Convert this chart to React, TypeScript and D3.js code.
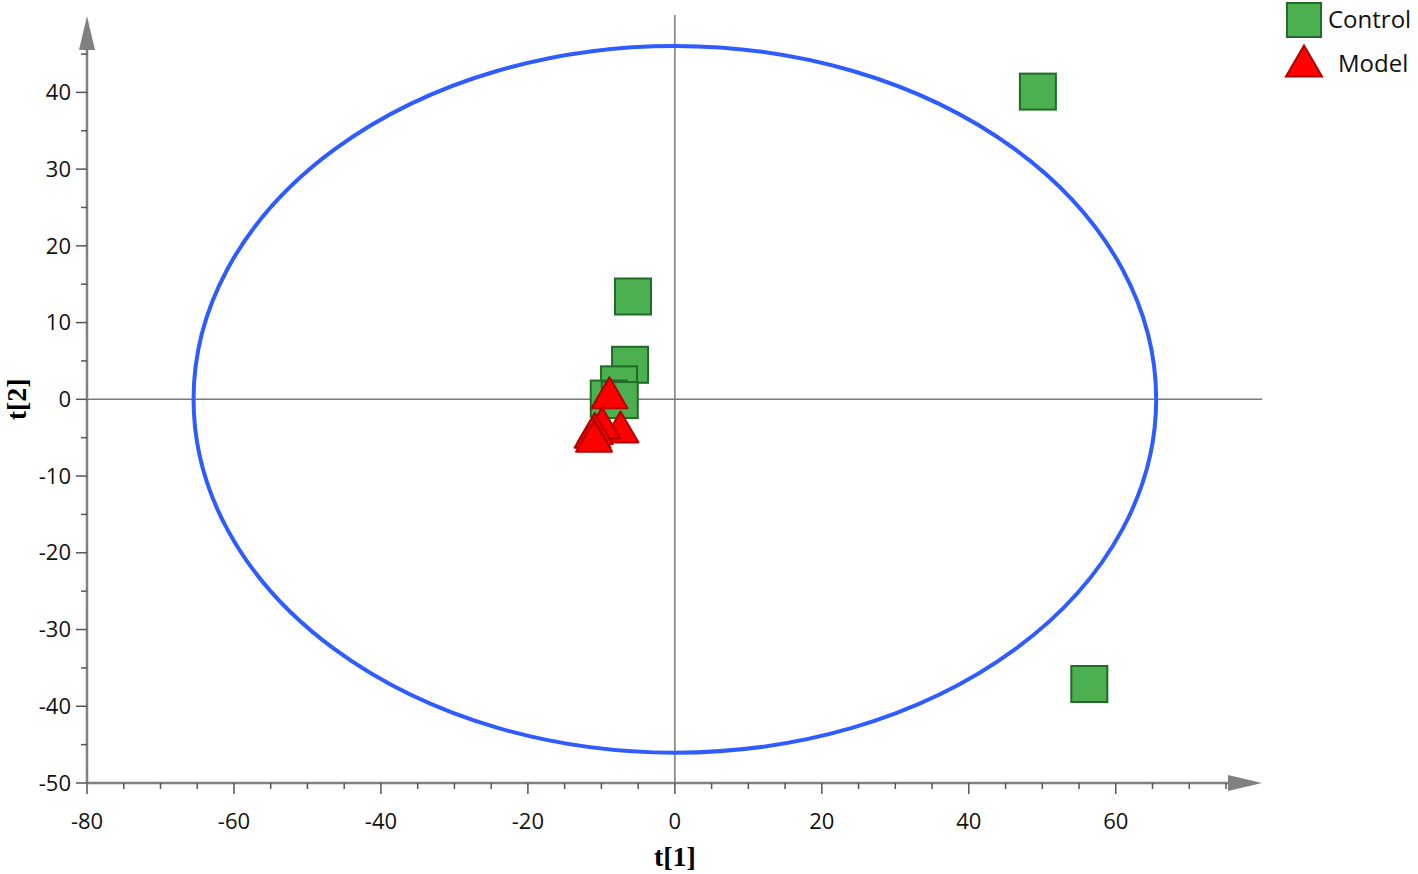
import * as React from 'react';
import * as d3 from 'd3';

// scores
const controlT1 = [49.4, 56.4, -5.7, -6.1, -7.6, -9.0, -7.5];
const controlT2 = [40.1, -37.1, 13.4, 4.5, 1.95, 0.1, -0.1];
const modelT1 = [-8.9, -7.4, -9.9, -10.9, -11.2, -11.0];
const modelT2 = [0.85, -3.6, -3.1, -3.8, -4.3, -4.8];
const xTicks = [-80, -60, -40, -20, 0, 20, 40, 60];
const yTicks = [-50, -40, -30, -20, -10, 0, 10, 20, 30, 40];
const ellipseT1 = 65.5;
const ellipseT2 = 46.05;
const legendNames = ['Control', 'Model'];

const width = 1418;
const height = 874;

function App() {
  const ref = React.useRef<SVGSVGElement>(null);

  React.useEffect(() => {
    const svg = d3.select(ref.current);
    svg.selectAll('*').remove();

    const x = d3.scaleLinear().domain([-80, 75]).range([87, 1226]);
    const y = d3.scaleLinear().domain([-50, 45]).range([783, 54]);
    const axisColor = '#808080';
    const labelFont = "'Open Sans', 'Noto Sans', sans-serif";

    // zero lines
    svg.append('line')
      .attr('x1', x(-80)).attr('x2', 1262)
      .attr('y1', y(0)).attr('y2', y(0))
      .attr('stroke', '#7a7a7a').attr('stroke-width', 1.5);
    svg.append('line')
      .attr('x1', x(0)).attr('x2', x(0))
      .attr('y1', 15).attr('y2', y(-50))
      .attr('stroke', '#7a7a7a').attr('stroke-width', 1.5);

    // Hotelling ellipse
    svg.append('ellipse')
      .attr('cx', x(0)).attr('cy', y(0))
      .attr('rx', x(ellipseT1) - x(0))
      .attr('ry', y(0) - y(ellipseT2))
      .attr('fill', 'none')
      .attr('stroke', '#2f5cff')
      .attr('stroke-width', 4);

    // x axis
    const xMinor = d3.range(-80, 76, 5);
    const gx = svg.append('g');
    gx.append('line')
      .attr('x1', x(-80)).attr('x2', 1230)
      .attr('y1', y(-50)).attr('y2', y(-50))
      .attr('stroke', axisColor).attr('stroke-width', 2.5);
    gx.append('path')
      .attr('d', `M1228,${y(-50) - 8}L1262,${y(-50)}L1228,${y(-50) + 8}Z`)
      .attr('fill', axisColor);
    gx.selectAll('line.tick')
      .data(xMinor)
      .enter().append('line')
      .attr('class', 'tick')
      .attr('x1', d => x(d)).attr('x2', d => x(d))
      .attr('y1', y(-50))
      .attr('y2', d => y(-50) + (d % 20 === 0 ? 11 : 6))
      .attr('stroke', '#555').attr('stroke-width', 1.5);
    gx.selectAll('text')
      .data(xTicks)
      .enter().append('text')
      .attr('x', d => x(d))
      .attr('y', 829)
      .attr('text-anchor', 'middle')
      .attr('font-family', labelFont)
      .attr('font-size', 22)
      .attr('fill', '#111')
      .text(d => d);

    // y axis
    const yMinor = d3.range(-50, 46, 5);
    const gy = svg.append('g');
    gy.append('line')
      .attr('x1', x(-80)).attr('x2', x(-80))
      .attr('y1', y(-50)).attr('y2', 48)
      .attr('stroke', axisColor).attr('stroke-width', 2.5);
    gy.append('path')
      .attr('d', `M${x(-80) - 8},50L${x(-80)},16L${x(-80) + 8},50Z`)
      .attr('fill', axisColor);
    gy.selectAll('line.tick')
      .data(yMinor)
      .enter().append('line')
      .attr('class', 'tick')
      .attr('x1', x(-80))
      .attr('x2', d => x(-80) - (d % 10 === 0 ? 11 : 6))
      .attr('y1', d => y(d)).attr('y2', d => y(d))
      .attr('stroke', '#555').attr('stroke-width', 1.5);
    gy.selectAll('text')
      .data(yTicks)
      .enter().append('text')
      .attr('x', 71)
      .attr('y', d => y(d))
      .attr('dy', '0.35em')
      .attr('text-anchor', 'end')
      .attr('font-family', labelFont)
      .attr('font-size', 22)
      .attr('fill', '#111')
      .text(d => d);

    // axis titles
    svg.append('text')
      .attr('x', x(0)).attr('y', 866)
      .attr('text-anchor', 'middle')
      .attr('font-family', "'Liberation Serif', serif")
      .attr('font-weight', 'bold')
      .attr('font-size', 28)
      .text('t[1]');
    svg.append('text')
      .attr('transform', `translate(26,${y(0)}) rotate(-90)`)
      .attr('text-anchor', 'middle')
      .attr('font-family', "'Liberation Serif', serif")
      .attr('font-weight', 'bold')
      .attr('font-size', 28)
      .text('t[2]');

    const sq = 36;
    const triW = 36;
    const triH = 31;
    const triPath = (cx: number, cy: number) =>
      `M${cx},${cy - triH / 2}L${cx + triW / 2},${cy + triH / 2}L${cx - triW / 2},${cy + triH / 2}Z`;

    // control squares
    const control = controlT1.map((t, i) => ({ t1: t, t2: controlT2[i] }));
    svg.append('g')
      .selectAll('rect')
      .data(control)
      .enter().append('rect')
      .attr('x', d => x(d.t1) - sq / 2)
      .attr('y', d => y(d.t2) - sq / 2)
      .attr('width', sq).attr('height', sq)
      .attr('fill', '#4caf50')
      .attr('stroke', '#1f6b27')
      .attr('stroke-width', 2);

    // model triangles
    const model = modelT1.map((t, i) => ({ t1: t, t2: modelT2[i] }));
    svg.append('g')
      .selectAll('path')
      .data(model)
      .enter().append('path')
      .attr('d', d => triPath(x(d.t1), y(d.t2)))
      .attr('fill', '#ff0000')
      .attr('stroke', '#b00000')
      .attr('stroke-width', 2)
      .attr('stroke-linejoin', 'round');

    // legend
    const lg = svg.append('g');
    lg.append('rect')
      .attr('x', 1287).attr('y', 3)
      .attr('width', 34).attr('height', 34)
      .attr('fill', '#4caf50')
      .attr('stroke', '#1f6b27')
      .attr('stroke-width', 2);
    lg.append('path')
      .attr('d', triPath(1304, 61))
      .attr('fill', '#ff0000')
      .attr('stroke', '#b00000')
      .attr('stroke-width', 2);
    lg.selectAll('text')
      .data(legendNames)
      .enter().append('text')
      .attr('x', (d, i) => (i === 0 ? 1328 : 1338))
      .attr('y', (d, i) => (i === 0 ? 20 : 64))
      .attr('dy', '0.35em')
      .attr('font-family', labelFont)
      .attr('font-size', 24)
      .attr('fill', '#111')
      .text(d => d);
  }, []);

  return (
    <svg
      ref={ref}
      width={width}
      height={height}
      style={{ position: 'absolute', left: 0, top: 0, background: '#fff' }}
    />
  );
}

export default App;
